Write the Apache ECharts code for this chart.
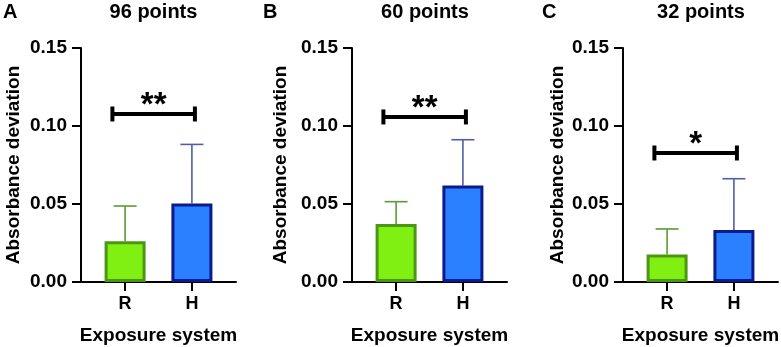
<!DOCTYPE html>
<html>
<head>
<meta charset="utf-8">
<script src="https://cdn.jsdelivr.net/npm/echarts@6/dist/echarts.min.js"></script>
<style>
html, body { margin: 0; padding: 0; background: #fff; }
#main { width: 781px; height: 347px; }
</style>
</head>
<body>
<div id="main"></div>
<script>
var dom = document.getElementById('main');
var myChart = echarts.init(dom);

// data
var panelLetters = ['A', 'B', 'C'];
var panelTitles = ['96 points', '60 points', '32 points'];
var categories = ['R', 'H'];
var yTicks = [0, 0.05, 0.10, 0.15];
var meansA = [0.0262, 0.0503];
var sdA = [0.0225, 0.0379];
var meansB = [0.0372, 0.0619];
var sdB = [0.0143, 0.0293];
var meansC = [0.0176, 0.0334];
var sdC = [0.0164, 0.0328];
var bracketY = [0.1077, 0.1058, 0.0827];
var stars = ['**', '**', '*'];

var means = [meansA, meansB, meansC];
var sds = [sdA, sdB, sdC];

var font = '"Liberation Sans", Arial, Helvetica, sans-serif';
var fills = ['#80f012', '#2b80ff'];
var borders = ['#4b9614', '#0b1a8c'];
var errColors = ['#5c9a32', '#4f5fa6'];

var gridLeft = [81, 352, 623];
var yNameGap = [58, 62, 56];

var grids = [], xAxes = [], yAxes = [], series = [], graphics = [];

for (var p = 0; p < 3; p++) {
    grids.push({ left: gridLeft[p], top: 48, width: 155, height: 234, outerBoundsMode: 'none', containLabel: false });

    xAxes.push({
        gridIndex: p,
        type: 'value',
        min: -0.66,
        max: 1.66,
        name: 'Exposure system',
        nameLocation: 'middle',
        nameGap: 44,
        nameTextStyle: { fontFamily: font, fontWeight: 'bold', fontSize: 19, color: '#000' },
        axisLine: { show: true, onZero: false, lineStyle: { color: '#000', width: 2 } },
        axisTick: { show: true, length: 9, lineStyle: { color: '#000', width: 2 }, customValues: [0, 1] },
        axisLabel: {
            customValues: [0, 1],
            margin: 13,
            fontFamily: font, fontWeight: 'bold', fontSize: 18, color: '#000',
            formatter: function (v) { return categories[Math.round(v)]; }
        },
        splitLine: { show: false }
    });

    yAxes.push({
        gridIndex: p,
        type: 'value',
        min: 0,
        max: 0.15,
        interval: 0.05,
        name: 'Absorbance deviation',
        nameLocation: 'middle',
        nameGap: yNameGap[p],
        nameTextStyle: { fontFamily: font, fontWeight: 'bold', fontSize: 19, color: '#000' },
        axisLine: { show: true, onZero: false, lineStyle: { color: '#000', width: 2 } },
        axisTick: { show: true, length: 9, lineStyle: { color: '#000', width: 2 } },
        axisLabel: {
            margin: 14,
            fontFamily: font, fontWeight: 'bold', fontSize: 19, color: '#000',
            formatter: function (v) { return v.toFixed(2); }
        },
        splitLine: { show: false }
    });

    // error bars (upper only)
    series.push({
        type: 'custom',
        xAxisIndex: p,
        yAxisIndex: p,
        z: 1,
        data: means[p].map(function (m, i) { return [i, m, m + sds[p][i]]; }),
        renderItem: function (params, api) {
            var x = api.value(0);
            var lo = api.coord([x, api.value(1)]);
            var hi = api.coord([x, api.value(2)]);
            var c = errColors[params.dataIndex];
            return {
                type: 'group',
                children: [
                    { type: 'line', shape: { x1: lo[0], y1: lo[1], x2: hi[0], y2: hi[1] }, style: { stroke: c, lineWidth: 1.6 } },
                    { type: 'line', shape: { x1: hi[0] - 11.5, y1: hi[1], x2: hi[0] + 11.5, y2: hi[1] }, style: { stroke: c, lineWidth: 1.6 } }
                ]
            };
        }
    });

    // bars
    series.push({
        type: 'bar',
        xAxisIndex: p,
        yAxisIndex: p,
        z: 2,
        barWidth: 41,
        data: means[p].map(function (m, i) {
            return { value: [i, m], itemStyle: { color: fills[i], borderColor: borders[i], borderWidth: 3 } };
        })
    });

    // significance bracket
    series.push({
        type: 'custom',
        xAxisIndex: p,
        yAxisIndex: p,
        z: 3,
        data: [[-0.19, 1.045, bracketY[p], p]],
        renderItem: function (params, api) {
            var a = api.coord([api.value(0), api.value(2)]);
            var b = api.coord([api.value(1), api.value(2)]);
            var st = { stroke: '#000', lineWidth: 4 };
            return {
                type: 'group',
                children: [
                    { type: 'line', shape: { x1: a[0], y1: a[1], x2: b[0], y2: b[1] }, style: st },
                    { type: 'line', shape: { x1: a[0], y1: a[1] - 7.5, x2: a[0], y2: a[1] + 7.5 }, style: st },
                    { type: 'line', shape: { x1: b[0], y1: b[1] - 7.5, x2: b[0], y2: b[1] + 7.5 }, style: st },
                    {
                        type: 'text',
                        x: (a[0] + b[0]) / 2,
                        y: a[1] - 8,
                        style: {
                            text: stars[api.value(3)],
                            fill: '#000',
                            font: 'bold 33px ' + font,
                            textAlign: 'center',
                            textVerticalAlign: 'middle'
                        }
                    }
                ]
            };
        }
    });
}

var titleX = [153.5, 425, 701];
var letterX = [3, 263, 542];
for (var q = 0; q < 3; q++) {
    graphics.push({
        type: 'text', x: titleX[q], y: 12.5,
        style: { text: panelTitles[q], fill: '#000', font: 'bold 20px ' + font, textAlign: 'center', textVerticalAlign: 'middle' }
    });
    graphics.push({
        type: 'text', x: letterX[q], y: 12.5,
        style: { text: panelLetters[q], fill: '#000', font: 'bold 20px ' + font, textAlign: 'left', textVerticalAlign: 'middle' }
    });
}

var option = {
    animation: false,
    backgroundColor: '#fff',
    grid: grids,
    xAxis: xAxes,
    yAxis: yAxes,
    series: series,
    graphic: graphics
};
myChart.setOption(option);
</script>
</body>
</html>
